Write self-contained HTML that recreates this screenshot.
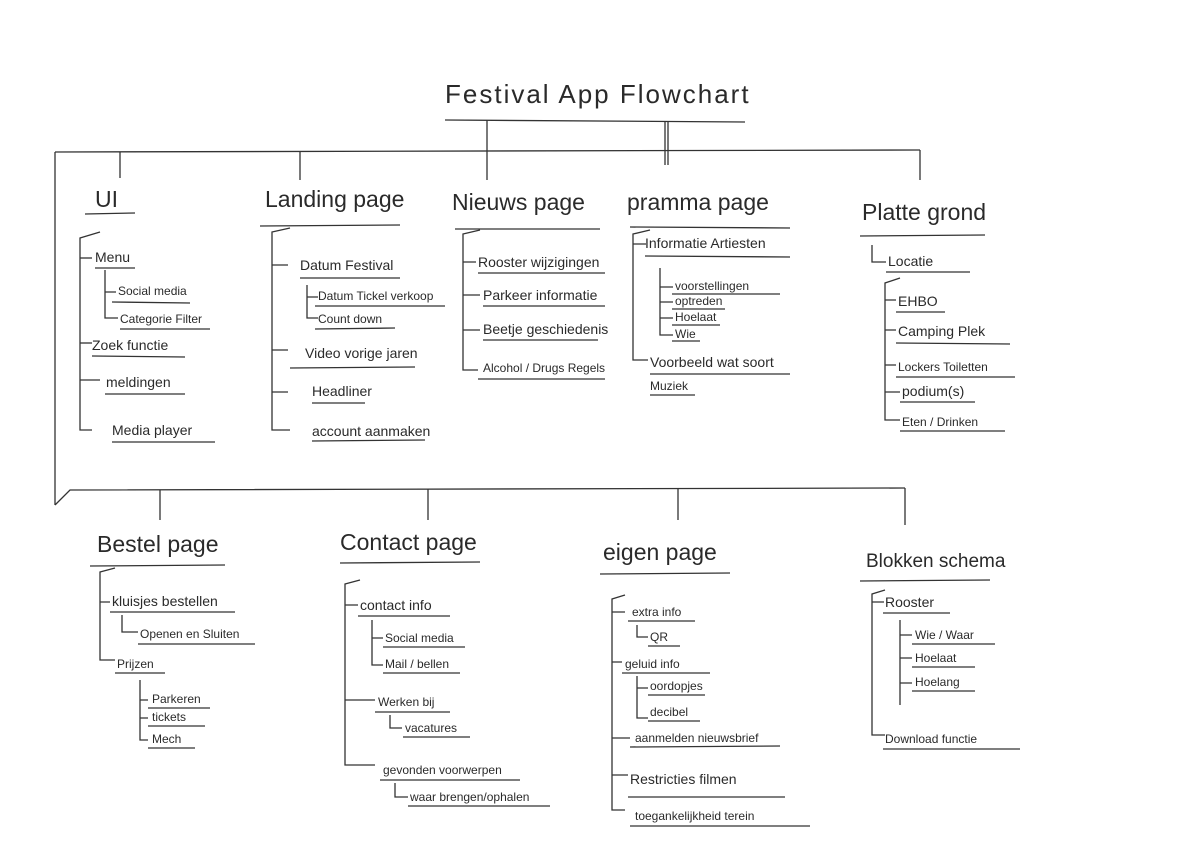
<!DOCTYPE html>
<html><head><meta charset="utf-8"><style>
html,body{margin:0;padding:0;background:#fff;}
svg{display:block}
text{font-family:"Liberation Sans",sans-serif;fill:#2a2a2a;font-size:14px}
.h{font-size:23px}
.s{font-size:12px}
line,path{stroke:#333;stroke-width:1.3;fill:none}
</style></head><body>
<svg width="1200" height="849" viewBox="0 0 1200 849">
<!-- title -->
<text x="445" y="103" class="h" style="font-size:26px;letter-spacing:2px">Festival  App  Flowchart</text>
<line x1="445" y1="120" x2="745" y2="122"/>
<line x1="487" y1="120" x2="487" y2="152"/>
<line x1="665" y1="121" x2="665" y2="165"/><line x1="668" y1="121" x2="668" y2="165"/>
<line x1="55" y1="152" x2="920" y2="150"/>
<line x1="120" y1="152" x2="120" y2="178"/>
<line x1="300" y1="152" x2="300" y2="180"/>
<line x1="487" y1="152" x2="487" y2="180"/>
<line x1="920" y1="150" x2="920" y2="180"/>
<line x1="55" y1="152" x2="55" y2="505"/>
<path d="M55,505 L70,490 L905,488"/>
<line x1="160" y1="490" x2="160" y2="520"/>
<line x1="428" y1="489" x2="428" y2="520"/>
<line x1="678" y1="489" x2="678" y2="520"/>
<line x1="905" y1="488" x2="905" y2="525"/>

<!-- UI -->
<text x="95" y="207" class="h">UI</text><line x1="85" y1="214" x2="135" y2="213"/>
<path d="M100,232 L80,238 L80,430 L92,430"/>
<path d="M80,258 L92,258"/><path d="M80,343 L92,343"/><path d="M80,380 L100,380"/>
<text x="95" y="262">Menu</text><line x1="95" y1="268" x2="135" y2="268"/>
<path d="M105,270 L105,318 L118,318 M105,292 L116,292"/>
<text x="118" y="295" class="s">Social media</text><line x1="112" y1="302" x2="190" y2="303"/>
<text x="120" y="323" class="s">Categorie Filter</text><line x1="120" y1="329" x2="210" y2="329"/>
<text x="92" y="350">Zoek functie</text><line x1="92" y1="356" x2="185" y2="357"/>
<text x="106" y="387">meldingen</text><line x1="105" y1="394" x2="185" y2="394"/>
<text x="112" y="435">Media  player</text><line x1="112" y1="442" x2="215" y2="442"/>

<!-- Landing page -->
<text x="265" y="207" class="h">Landing page</text><line x1="260" y1="226" x2="400" y2="225"/>
<path d="M290,228 L272,232 L272,430 L290,430"/>
<path d="M272,265 L288,265 M272,350 L288,350 M272,392 L288,392"/>
<text x="300" y="270">Datum Festival</text><line x1="300" y1="278" x2="400" y2="278"/>
<path d="M307,285 L307,318 L318,318 M307,297 L318,297"/>
<text x="318" y="300" class="s">Datum Tickel verkoop</text><line x1="315" y1="306" x2="445" y2="306"/>
<text x="318" y="323" class="s">Count down</text><line x1="315" y1="329" x2="395" y2="328"/>
<text x="305" y="358">Video vorige jaren</text><line x1="290" y1="368" x2="415" y2="367"/>
<text x="312" y="396">Headliner</text><line x1="312" y1="403" x2="365" y2="403"/>
<text x="312" y="436">account aanmaken</text><line x1="312" y1="441" x2="425" y2="440"/>

<!-- Nieuws page -->
<text x="452" y="210" class="h">Nieuws  page</text><line x1="455" y1="229" x2="600" y2="229"/>
<path d="M480,230 L463,234 L463,370 L478,370 M463,262 L476,262 M463,295 L480,295 M463,330 L480,330"/>
<text x="478" y="267">Rooster wijzigingen</text><line x1="478" y1="273" x2="605" y2="273"/>
<text x="483" y="300">Parkeer informatie</text><line x1="483" y1="306" x2="605" y2="306"/>
<text x="483" y="334">Beetje geschiedenis</text><line x1="483" y1="340" x2="598" y2="340"/>
<text x="483" y="372" class="s">Alcohol / Drugs  Regels</text><line x1="478" y1="379" x2="605" y2="379"/>

<!-- pramma page -->
<text x="627" y="210" class="h">pramma    page</text><line x1="630" y1="227" x2="790" y2="228"/>
<path d="M650,230 L633,234 L633,360 L648,360 M633,244 L646,244"/>
<text x="645" y="248">Informatie  Artiesten</text><line x1="645" y1="256" x2="790" y2="257"/>
<path d="M660,268 L660,335 L673,335 M660,287 L673,287 M660,302 L673,302 M660,318 L673,318"/>
<text x="675" y="290" class="s">voorstellingen</text><line x1="672" y1="294" x2="780" y2="294"/>
<text x="675" y="305" class="s">optreden</text><line x1="672" y1="309" x2="725" y2="309"/>
<text x="675" y="321" class="s">Hoelaat</text><line x1="672" y1="325" x2="720" y2="325"/>
<text x="675" y="338" class="s">Wie</text><line x1="672" y1="341" x2="700" y2="341"/>
<text x="650" y="367">Voorbeeld wat soort</text><line x1="650" y1="374" x2="790" y2="374"/>
<text x="650" y="390" class="s">Muziek</text><line x1="650" y1="395" x2="695" y2="395"/>

<!-- Platte grond -->
<text x="862" y="220" class="h">Platte  grond</text><line x1="860" y1="236" x2="985" y2="235"/>
<path d="M872,245 L872,262 L886,262"/>
<text x="888" y="266">Locatie</text><line x1="886" y1="272" x2="970" y2="272"/>
<path d="M900,278 L885,283 L885,420 L900,420 M885,300 L896,300 M885,330 L896,330 M885,365 L896,365 M885,392 L900,392"/>
<text x="898" y="306">EHBO</text><line x1="896" y1="312" x2="945" y2="312"/>
<text x="898" y="336">Camping  Plek</text><line x1="896" y1="343" x2="1010" y2="344"/>
<text x="898" y="371" class="s">Lockers  Toiletten</text><line x1="896" y1="377" x2="1015" y2="377"/>
<text x="902" y="396">podium(s)</text><line x1="900" y1="402" x2="975" y2="402"/>
<text x="902" y="426" class="s">Eten / Drinken</text><line x1="900" y1="431" x2="1005" y2="431"/>

<!-- Bestel page -->
<text x="97" y="552" class="h">Bestel  page</text><line x1="90" y1="566" x2="225" y2="565"/>
<path d="M115,568 L100,572 L100,660 L115,660 M100,602 L110,602"/>
<text x="112" y="606">kluisjes bestellen</text><line x1="110" y1="612" x2="235" y2="612"/>
<path d="M122,615 L122,632 L138,632"/>
<text x="140" y="638" class="s">Openen en Sluiten</text><line x1="138" y1="644" x2="255" y2="644"/>
<text x="117" y="668" class="s">Prijzen</text><line x1="115" y1="673" x2="165" y2="673"/>
<path d="M140,680 L140,740 L148,740 M140,700 L148,700 M140,718 L148,718"/>
<text x="152" y="703" class="s">Parkeren</text><line x1="148" y1="708" x2="210" y2="708"/>
<text x="152" y="721" class="s">tickets</text><line x1="148" y1="726" x2="205" y2="726"/>
<text x="152" y="743" class="s">Mech</text><line x1="148" y1="748" x2="195" y2="748"/>

<!-- Contact page -->
<text x="340" y="550" class="h">Contact   page</text><line x1="340" y1="563" x2="480" y2="562"/>
<path d="M360,580 L345,584 L345,765 L375,765 M345,605 L358,605 M345,700 L375,700"/>
<text x="360" y="610">contact info</text><line x1="358" y1="616" x2="450" y2="616"/>
<path d="M372,620 L372,665 L383,665 M372,638 L383,638"/>
<text x="385" y="642" class="s">Social media</text><line x1="383" y1="647" x2="465" y2="647"/>
<text x="385" y="668" class="s">Mail / bellen</text><line x1="383" y1="673" x2="460" y2="673"/>
<text x="378" y="706" class="s">Werken bij</text><line x1="375" y1="712" x2="450" y2="712"/>
<path d="M390,715 L390,728 L402,728"/>
<text x="405" y="732" class="s">vacatures</text><line x1="403" y1="737" x2="470" y2="737"/>
<text x="383" y="774" class="s">gevonden voorwerpen</text><line x1="380" y1="780" x2="520" y2="780"/>
<path d="M395,783 L395,797 L408,797"/>
<text x="410" y="801" class="s">waar brengen/ophalen</text><line x1="408" y1="806" x2="550" y2="806"/>

<!-- eigen page -->
<text x="603" y="560" class="h">eigen  page</text><line x1="600" y1="574" x2="730" y2="573"/>
<path d="M625,595 L612,599 L612,810 L625,810 M612,612 L625,612 M612,662 L622,662 M612,738 L630,738 M612,775 L628,775"/>
<text x="632" y="616" class="s">extra info</text><line x1="628" y1="621" x2="695" y2="621"/>
<path d="M637,625 L637,637 L648,637"/>
<text x="650" y="641" class="s">QR</text><line x1="648" y1="646" x2="680" y2="646"/>
<text x="625" y="668" class="s">geluid info</text><line x1="622" y1="673" x2="710" y2="673"/>
<path d="M637,676 L637,718 L648,718 M637,688 L648,688"/>
<text x="650" y="690" class="s">oordopjes</text><line x1="648" y1="695" x2="705" y2="695"/>
<text x="650" y="716" class="s">decibel</text><line x1="648" y1="721" x2="700" y2="721"/>
<text x="635" y="742" class="s">aanmelden nieuwsbrief</text><line x1="630" y1="747" x2="780" y2="746"/>
<text x="630" y="784">Restricties  filmen</text><line x1="628" y1="797" x2="785" y2="797"/>
<text x="635" y="820" class="s">toegankelijkheid   terein</text><line x1="630" y1="826" x2="810" y2="826"/>

<!-- Blokken schema -->
<text x="866" y="567" class="h" style="font-size:19px">Blokken  schema</text><line x1="860" y1="581" x2="990" y2="580"/>
<path d="M885,590 L872,594 L872,735 L885,735 M872,602 L884,602"/>
<text x="885" y="607">Rooster</text><line x1="883" y1="613" x2="950" y2="613"/>
<path d="M900,620 L900,705 M900,635 L912,635 M900,658 L912,658 M900,683 L912,683"/>
<text x="915" y="639" class="s">Wie / Waar</text><line x1="912" y1="644" x2="995" y2="644"/>
<text x="915" y="662" class="s">Hoelaat</text><line x1="912" y1="667" x2="975" y2="667"/>
<text x="915" y="686" class="s">Hoelang</text><line x1="912" y1="691" x2="975" y2="691"/>
<text x="885" y="743" class="s">Download  functie</text><line x1="883" y1="749" x2="1020" y2="749"/>
</svg>
</body></html>
